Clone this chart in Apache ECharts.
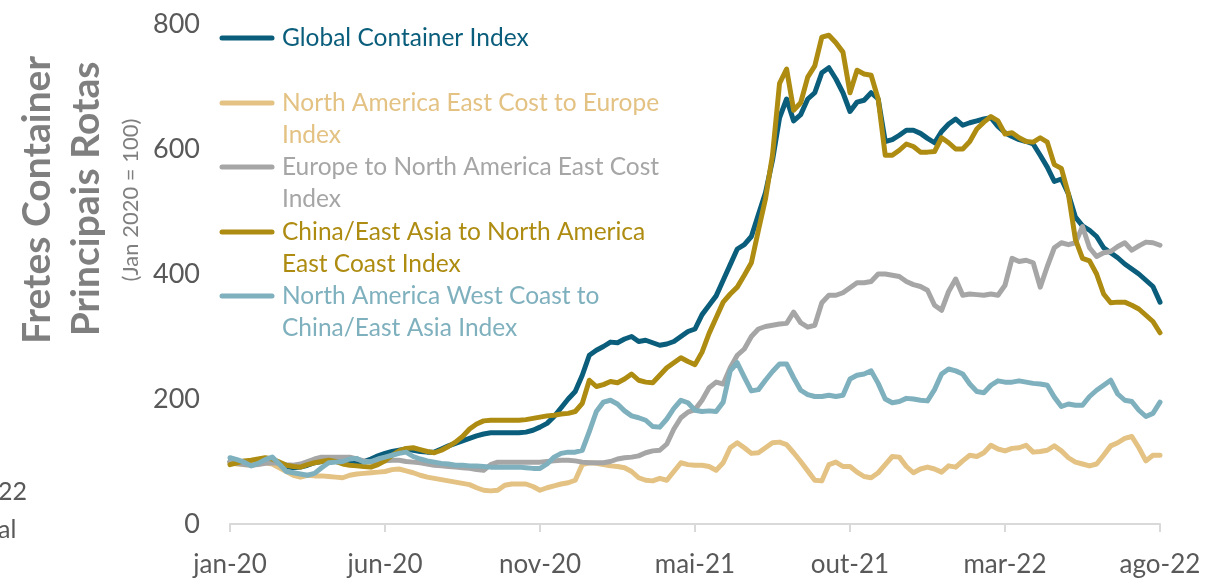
<!DOCTYPE html>
<html>
<head>
<meta charset="utf-8">
<script src="https://cdn.jsdelivr.net/npm/echarts@6/dist/echarts.min.js"></script>
<style>
  html, body { margin: 0; padding: 0; background: #ffffff; }
  #chart { width: 1221px; height: 584px; }
</style>
</head>
<body>
<div id="chart"></div>
<script>
// Weekly freight indices, Jan 2020 = 100
const tickLabels = ['jan-20', 'jun-20', 'nov-20', 'mai-21', 'out-21', 'mar-22', 'ago-22'];
const labelEvery = 22; // one axis label every 22 weeks

const globalIndex = [
  100, 98, 97, 100, 103, 104, 101, 96, 92, 90, 91, 94, 98, 100, 101, 100, 99, 100, 99, 100,
  104, 109, 113, 116, 118, 120, 118, 116, 115, 115, 120, 125, 129, 133, 137, 141, 144, 146, 146, 146,
  146, 146, 147, 150, 155, 161, 172, 186, 200, 212, 238, 270, 278, 284, 291, 290, 296, 300, 292, 294,
  290, 286, 288, 292, 300, 308, 312, 335, 350, 365, 390, 415, 440, 447, 460, 495, 530, 582, 650, 680,
  645, 655, 680, 690, 722, 730, 712, 690, 660, 675, 678, 690, 680, 612, 615, 622, 630, 630, 625, 617,
  610, 628, 640, 648, 638, 642, 645, 648, 650, 636, 626, 620, 615, 612, 608, 590, 571, 548, 552, 528,
  491, 477, 470, 460, 442, 434, 426, 416, 408, 400, 390, 380, 355
];

const naEastToEurope = [
  98, 96, 95, 95, 97, 98, 96, 90, 84, 78, 75, 78, 77, 77, 76, 75, 74, 78, 80, 81,
  82, 83, 84, 87, 88, 85, 82, 78, 75, 73, 71, 69, 67, 65, 63, 58, 54, 53, 54, 62,
  64, 64, 64, 60, 54, 58, 61, 64, 66, 70, 95, 98, 97, 95, 93, 92, 90, 84, 74, 70,
  69, 73, 70, 84, 98, 95, 94, 94, 92, 86, 98, 122, 130, 122, 113, 114, 122, 130, 131, 127,
  114, 100, 85, 70, 69, 95, 99, 92, 92, 83, 76, 74, 82, 95, 108, 107, 92, 82, 88, 91,
  88, 83, 93, 91, 101, 110, 108, 114, 126, 120, 117, 121, 122, 126, 115, 116, 118, 125, 117, 106,
  99, 96, 93, 96, 110, 125, 130, 137, 140, 122, 101, 110, 110
];

const europeToNaEast = [
  99, 97, 95, 94, 95, 97, 98, 97, 95, 94, 96, 100, 104, 107, 107, 107, 107, 107, 104, 101,
  99, 100, 101, 102, 102, 100, 99, 98, 96, 94, 93, 92, 91, 90, 89, 87, 86, 95, 99, 99,
  99, 99, 99, 99, 99, 100, 101, 102, 102, 101, 99, 98, 98, 98, 100, 104, 106, 107, 109, 114,
  117, 118, 128, 152, 170, 179, 183, 198, 218, 227, 224, 250, 270, 280, 300, 312, 316, 318, 320, 321,
  339, 322, 315, 318, 354, 366, 366, 370, 378, 386, 386, 388, 400, 400, 398, 396, 388, 383, 380, 374,
  350, 342, 372, 392, 366, 368, 367, 366, 368, 366, 382, 425, 420, 422, 418, 379, 412, 442, 450, 447,
  450, 476, 442, 428, 434, 436, 444, 450, 438, 445, 451, 450, 446
];

const chinaToNaEast = [
  95, 98, 101, 102, 104, 106, 104, 99, 94, 92, 91, 95, 98, 100, 102, 100, 96, 94, 93, 92,
  91, 95, 101, 110, 117, 121, 122, 119, 116, 114, 118, 124, 131, 140, 152, 160, 165, 166, 166, 166,
  166, 166, 167, 169, 171, 173, 174, 176, 177, 180, 193, 230, 220, 223, 228, 226, 232, 240, 230, 227,
  226, 238, 250, 258, 266, 260, 255, 275, 305, 330, 355, 368, 379, 398, 418, 470, 520, 590, 705, 728,
  662, 674, 715, 733, 779, 782, 770, 755, 690, 726, 720, 718, 680, 590, 590, 598, 608, 604, 595, 595,
  596, 618, 610, 600, 600, 612, 632, 643, 652, 645, 624, 626, 618, 612, 611, 618, 611, 575, 569, 528,
  455, 425, 421, 400, 368, 354, 355, 355, 350, 344, 334, 324, 306
];

const naWestToChina = [
  106, 103, 99, 93, 97, 103, 107, 96, 84, 82, 80, 78, 81, 90, 98, 99, 100, 104, 105, 99,
  100, 104, 107, 110, 113, 115, 108, 104, 101, 99, 97, 96, 94, 94, 93, 93, 92, 91, 91, 91,
  91, 91, 90, 89, 89, 96, 107, 113, 115, 115, 118, 148, 180, 195, 198, 192, 181, 173, 170, 166,
  156, 155, 168, 185, 198, 194, 182, 180, 181, 180, 195, 245, 258, 235, 213, 215, 230, 244, 256, 256,
  234, 214, 207, 204, 204, 206, 204, 206, 232, 238, 240, 245, 225, 200, 194, 196, 201, 200, 198, 197,
  215, 240, 248, 245, 240, 224, 212, 210, 222, 229, 227, 227, 229, 227, 225, 224, 222, 203, 188, 192,
  190, 190, 204, 214, 222, 230, 208, 198, 196, 182, 172, 177, 195
];

const seriesNames = [
  'Global Container Index',
  'North America East Cost to Europe Index',
  'Europe to North America East Cost Index',
  'China/East Asia to North America East Coast Index',
  'North America West Coast to China/East Asia Index'
];
const legendLines = [
  'Global Container Index',
  'North America East Cost to Europe\nIndex',
  'Europe to North America East Cost\nIndex',
  'China/East Asia to North America\nEast Coast Index',
  'North America West Coast to\nChina/East Asia Index'
];
const colors = ['#0A5E7B', '#E3C283', '#A6A6A6', '#AE8C11', '#7FB0BE'];
const seriesData = [globalIndex, naEastToEurope, europeToNaEast, chinaToNaEast, naWestToChina];

// weekly category dates
const weeks = [];
{
  const start = new Date(Date.UTC(2020, 0, 25));
  for (let i = 0; i < globalIndex.length; i++) {
    const d = new Date(start.getTime() + i * 7 * 86400000);
    weeks.push(d.toISOString().slice(0, 10));
  }
}

const FONT = 'Lato';
const axisGray = '#595959';

const legendTop = [38, 103, 167, 232, 296];
const legendGraphics = [];
legendLines.forEach((txt, k) => {
  legendGraphics.push({
    type: 'line',
    shape: { x1: 222, y1: legendTop[k], x2: 272, y2: legendTop[k] },
    style: { stroke: colors[k], lineWidth: 5, lineCap: 'round' }
  });
  legendGraphics.push({
    type: 'text',
    x: 282, y: legendTop[k] - 16,
    style: {
      text: txt, fill: colors[k], font: '24.5px ' + FONT,
      lineHeight: 32, textVerticalAlign: 'top', textAlign: 'left'
    }
  });
});

const titleGraphics = [
  {
    type: 'text', x: 37, y: 200, rotation: Math.PI / 2,
    style: { text: 'Fretes Container', fill: '#7F7F7F', font: 'bold 39px ' + FONT,
             textAlign: 'center', textVerticalAlign: 'middle' }
  },
  {
    type: 'text', x: 86, y: 199, rotation: Math.PI / 2,
    style: { text: 'Principais Rotas', fill: '#7F7F7F', font: 'bold 39px ' + FONT,
             textAlign: 'center', textVerticalAlign: 'middle' }
  },
  {
    type: 'text', x: 131, y: 200, rotation: Math.PI / 2,
    style: { text: '(Jan 2020 = 100)', fill: '#7F7F7F', font: '22px ' + FONT,
             textAlign: 'center', textVerticalAlign: 'middle' }
  },
  {
    type: 'text', x: -2, y: 492,
    style: { text: '22', fill: axisGray, font: '25px ' + FONT, textVerticalAlign: 'middle' }
  },
  {
    type: 'text', x: -2, y: 530,
    style: { text: 'al', fill: axisGray, font: '25px ' + FONT, textVerticalAlign: 'middle' }
  }
];

const chart = echarts.init(document.getElementById('chart'), null, { renderer: 'canvas' });
chart.setOption({
  animation: false,
  backgroundColor: '#ffffff',
  grid: { left: 230, right: 61, top: 24, bottom: 60, containLabel: false },
  xAxis: {
    type: 'category',
    data: weeks,
    boundaryGap: false,
    axisLine: { show: true, lineStyle: { color: '#D9D9D9', width: 2 } },
    axisTick: {
      show: true, length: 8, interval: (i) => i % labelEvery === 0,
      lineStyle: { color: '#D9D9D9', width: 2 }
    },
    axisLabel: {
      interval: (i) => i % labelEvery === 0,
      formatter: (v, i) => tickLabels[i / labelEvery] || '',
      color: axisGray, fontFamily: FONT, fontSize: 26, margin: 28
    },
    splitLine: { show: false }
  },
  yAxis: {
    type: 'value',
    min: 0, max: 800, interval: 200,
    axisLine: { show: false },
    axisTick: { show: false },
    splitLine: { show: false },
    axisLabel: { color: axisGray, fontFamily: FONT, fontSize: 27, margin: 30 }
  },
  series: seriesData.map((d, k) => ({
    name: seriesNames[k],
    type: 'line',
    data: d,
    showSymbol: false,
    symbol: 'none',
    lineStyle: { color: colors[k], width: 5, join: 'round', cap: 'round' },
    itemStyle: { color: colors[k] },
    z: 2 + k
  })),
  graphic: titleGraphics.concat(legendGraphics)
});
</script>
</body>
</html>
